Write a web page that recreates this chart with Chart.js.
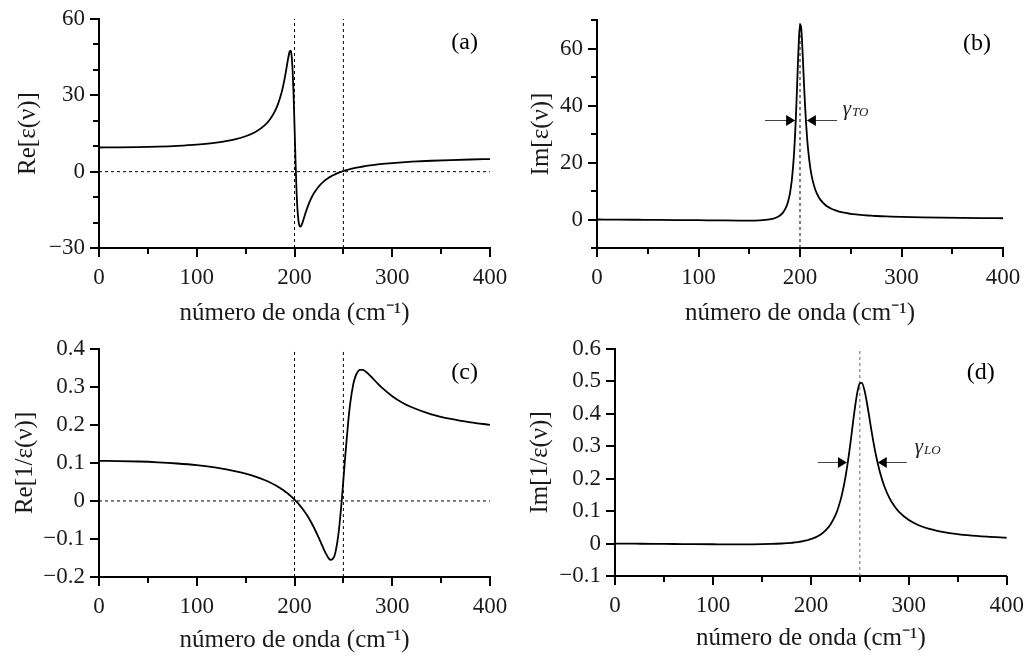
<!DOCTYPE html>
<html>
<head>
<meta charset="utf-8">
<script src="https://cdn.jsdelivr.net/npm/chart.js@4.4.1/dist/chart.umd.min.js"></script>
<style>
  body { margin: 0; background: #fff; width: 1031px; height: 657px; overflow: hidden; position: relative; }
  canvas { position: absolute; }
</style>
</head>
<body>
<canvas id="pa" width="515" height="330" style="left:0;top:0"></canvas>
<canvas id="pb" width="516" height="330" style="left:515px;top:0"></canvas>
<canvas id="pc" width="515" height="327" style="left:0;top:330px"></canvas>
<canvas id="pd" width="516" height="327" style="left:515px;top:330px"></canvas>
<script>
// wavenumber grid (cm-1), dense around the TO (200) and LO (250) features
const wn = [0, 20, 40, 60, 80, 100, 120, 140, 150, 160, 170, 175, 180, 183, 186, 188, 190, 192, 194, 195,
  196, 197, 198, 199, 200, 201, 202, 203, 204, 205, 206, 207, 208, 210, 212, 215, 218, 220, 225, 227,
  230, 232, 235, 237, 240, 242, 245, 248, 250, 252, 255, 257, 260, 262, 265, 267, 270, 272, 275, 280,
  285, 290, 300, 310, 320, 340, 360, 380, 400];

// (a) Re[eps]
const reEps = [9.50, 9.535, 9.643, 9.841, 10.156, 10.648, 11.439, 12.811, 13.929, 15.612, 18.401, 20.59, 23.77, 26.443, 30.001, 33.047, 36.761, 41.124, 45.554, 47.157,
  47.557, 45.73, 40.46, 31.021, 18.24, 4.716, -6.692, -14.57, -19.088, -21.129, -21.593, -21.145, -20.215, -17.825, -15.404, -12.258, -9.752, -8.38, -5.721, -4.889,
  -3.823, -3.212, -2.413, -1.947, -1.329, -0.963, -0.471, -0.039, 0.222, 0.464, 0.795, 0.996, 1.274, 1.445, 1.681, 1.827, 2.031, 2.158, 2.335, 2.601,
  2.835, 3.044, 3.397, 3.686, 3.925, 4.299, 4.575, 4.787, 4.955];

// (b) Im[eps]
const imEps = [0, -0.044, -0.09, -0.138, -0.193, -0.253, -0.319, -0.373, -0.37, -0.292, 0.025, 0.439, 1.31, 2.306, 4.048, 5.979, 9.023, 14.011, 22.415, 28.551,
  36.276, 45.471, 55.27, 63.743, 68.4, 67.788, 62.639, 55.09, 47.122, 39.855, 33.684, 28.616, 24.506, 18.472, 14.427, 10.533, 8.11, 6.972, 5.074, 4.554,
  3.934, 3.6, 3.188, 2.959, 2.668, 2.503, 2.289, 2.108, 2.002, 1.906, 1.778, 1.701, 1.598, 1.536, 1.452, 1.401, 1.33, 1.287, 1.228, 1.14,
  1.065, 0.999, 0.891, 0.804, 0.734, 0.627, 0.549, 0.49, 0.443];

// (c) Re[1/eps]
const reInv = [0.1053, 0.1049, 0.1037, 0.1016, 0.0984, 0.0939, 0.0874, 0.078, 0.0717, 0.064, 0.0544, 0.0486, 0.0419, 0.0375, 0.0327, 0.0293, 0.0257, 0.0218, 0.0177, 0.0155,
  0.0133, 0.011, 0.0086, 0.0062, 0.0036, 0.001, -0.0017, -0.0045, -0.0074, -0.0104, -0.0135, -0.0167, -0.02, -0.0271, -0.0346, -0.0469, -0.0606, -0.0705, -0.0978, -0.1095,
  -0.1271, -0.138, -0.151, -0.1552, -0.1495, -0.1338, -0.0863, -0.0087, 0.0548, 0.1206, 0.2096, 0.2563, 0.305, 0.3249, 0.3407, 0.3447, 0.3446, 0.3418, 0.3355, 0.3225,
  0.3091, 0.2966, 0.2754, 0.259, 0.2462, 0.2278, 0.2155, 0.2067, 0.2002];

// (d) Im[1/eps]
const imInv = [0, -0.0005, -0.001, -0.0014, -0.0019, -0.0022, -0.0024, -0.0023, -0.0019, -0.0012, 0.0001, 0.001, 0.0023, 0.0033, 0.0044, 0.0053, 0.0063, 0.0074, 0.0087, 0.0094,
  0.0101, 0.0109, 0.0118, 0.0127, 0.0137, 0.0147, 0.0158, 0.017, 0.0182, 0.0196, 0.021, 0.0226, 0.0243, 0.028, 0.0324, 0.0403, 0.0504, 0.0587, 0.0868, 0.102,
  0.1307, 0.1547, 0.1994, 0.2359, 0.3003, 0.348, 0.4191, 0.4742, 0.4934, 0.4953, 0.4689, 0.4377, 0.3826, 0.3455, 0.2942, 0.2642, 0.2257, 0.2039, 0.1764, 0.1414,
  0.1161, 0.0974, 0.0722, 0.0565, 0.046, 0.0332, 0.0259, 0.0211, 0.0179];

// tick labels
const xTickLabels = [0, 100, 200, 300, 400];
const aTicks = [-30, 0, 30, 60];
const bTicks = [0, 20, 40, 60];
const cTicks = [-0.2, -0.1, 0, 0.1, 0.2, 0.3, 0.4];
const dTicks = [-0.1, 0, 0.1, 0.2, 0.3, 0.4, 0.5, 0.6];

const FONT = '"Liberation Serif", "Times New Roman", serif';
const TXT = '#1a1a1a';

function isIn(list, v) { return list.some(t => Math.abs(t - v) < 1e-7); }
function fmt(v) { return String(Math.round(v * 100) / 100).replace('-', '\u2212'); }

// tick marks: long for labelled ticks, short for the minor ones
const tickMarks = {
  id: 'tickMarks',
  afterDraw(chart, args, o) {
    const { ctx, scales: { x, y } } = chart;
    ctx.save();
    ctx.strokeStyle = '#000';
    ctx.lineWidth = 2;
    ctx.beginPath();
    x.ticks.forEach(t => {
      const px = Math.round(x.getPixelForValue(t.value));
      const len = isIn(xTickLabels, t.value) ? 9 : 6;
      ctx.moveTo(px, x.top);
      ctx.lineTo(px, x.top + len);
    });
    y.ticks.forEach(t => {
      const py = Math.round(y.getPixelForValue(t.value));
      const len = isIn(o.labels, t.value) ? 9 : 6;
      ctx.moveTo(y.right, py);
      ctx.lineTo(y.right - len, py);
    });
    ctx.stroke();
    ctx.restore();
  }
};

// panel tag and the width arrows
const extras = {
  id: 'extras',
  afterDatasetsDraw(chart, args, o) {
    const { ctx, chartArea: a, scales: { x, y } } = chart;
    ctx.save();
    ctx.fillStyle = '#000';
    ctx.font = `24px ${FONT}`;
    ctx.textAlign = 'right';
    ctx.textBaseline = 'middle';
    ctx.fillText(o.tag, a.right - 12, a.top + 24);
    if (o.arrows) {
      const yy = Math.round(y.getPixelForValue(o.arrows.y)) + 0.5;
      o.arrows.pairs.forEach(([from, tip]) => {
        const x0 = x.getPixelForValue(from), x1 = x.getPixelForValue(tip);
        const dir = Math.sign(x1 - x0);
        ctx.strokeStyle = '#444';
        ctx.lineWidth = 1;
        ctx.beginPath();
        ctx.moveTo(x0, yy);
        ctx.lineTo(x1 - dir * 8, yy);
        ctx.stroke();
        ctx.beginPath();
        ctx.moveTo(x1, yy);
        ctx.lineTo(x1 - dir * 9, yy - 5.5);
        ctx.lineTo(x1 - dir * 9, yy + 5.5);
        ctx.closePath();
        ctx.fill();
      });
      const gx = x.getPixelForValue(o.arrows.labelX), gy = y.getPixelForValue(o.arrows.labelY);
      ctx.textAlign = 'left';
      ctx.textBaseline = 'alphabetic';
      ctx.fillStyle = '#222';
      ctx.font = `italic 21px ${FONT}`;
      ctx.fillText('\u03b3', gx, gy);
      const w = ctx.measureText('\u03b3').width;
      ctx.font = `italic 13px ${FONT}`;
      ctx.fillText(o.arrows.sub, gx + w + 1, gy + 1);
    }
    ctx.restore();
  }
};

function panel(id, p) {
  const canvas = document.getElementById(id);
  const W = canvas.width, H = canvas.height;
  const datasets = [{
    data: wn.map((v, i) => ({ x: v, y: p.ys[i] })),
    borderColor: '#000', borderWidth: 1.8, pointRadius: 0, showLine: true, order: 0,
    cubicInterpolationMode: 'monotone'
  }];
  p.marks.forEach(m => datasets.push({
    data: [{ x: m, y: p.yr[0] }, { x: m, y: p.yr[1] }],
    borderColor: p.dash, borderWidth: 1, borderDash: [3, 3], pointRadius: 0, showLine: true, order: 1
  }));
  if (p.zero) datasets.push({
    data: [{ x: 0, y: 0 }, { x: 400, y: 0 }],
    borderColor: '#000', borderWidth: 1, borderDash: [3, 3], pointRadius: 0, showLine: true, order: 1
  });

  return new Chart(canvas, {
    type: 'scatter',
    data: { datasets },
    plugins: [tickMarks, extras],
    options: {
      responsive: false,
      animation: false,
      layout: { padding: { left: 0, top: p.area.top, right: W - p.area.right, bottom: 0 } },
      plugins: {
        legend: { display: false },
        tooltip: { enabled: false },
        tickMarks: { labels: p.labels },
        extras: { tag: p.tag, arrows: p.arrows }
      },
      scales: {
        x: {
          type: 'linear', min: 0, max: 400,
          ticks: {
            stepSize: 50, autoSkip: false, maxRotation: 0, padding: 7, color: TXT,
            font: { family: FONT, size: 23 },
            callback: v => isIn(xTickLabels, v) ? fmt(v) : ''
          },
          grid: { drawOnChartArea: false, tickLength: 9, tickColor: 'transparent' },
          border: { color: '#000', width: 2 },
          title: {
            display: true, text: 'número de onda (cm\u207b\u00b9)', color: TXT,
            font: { family: FONT, size: 25 }, padding: { top: 0, bottom: p.xtPad }
          },
          afterFit: s => { s.height = H - p.area.bottom; }
        },
        y: {
          type: 'linear', min: p.yr[0], max: p.yr[1],
          ticks: {
            stepSize: p.step, autoSkip: false, padding: 5, color: TXT,
            font: { family: FONT, size: 23 },
            callback: v => isIn(p.labels, v) ? fmt(v) : ''
          },
          grid: { drawOnChartArea: false, tickLength: 9, tickColor: 'transparent' },
          border: { color: '#000', width: 2 },
          title: {
            display: true, text: p.title, color: TXT,
            font: { family: FONT, size: 25 }, padding: { top: p.ytPad, bottom: 0 }
          },
          afterFit: s => { s.width = p.area.left; }
        }
      }
    }
  });
}

panel('pa', {
  ys: reEps, yr: [-30, 60], step: 10, labels: aTicks, title: 'Re[\u03b5(\u03bd)]', tag: '(a)',
  marks: [200, 250], zero: true, dash: '#000',
  area: { left: 99, top: 19, right: 490, bottom: 248 }, xtPad: 2, ytPad: 13
});
panel('pb', {
  ys: imEps, yr: [-10, 70], step: 10, labels: bTicks, title: 'Im[\u03b5(\u03bd)]', tag: '(b)',
  marks: [200], zero: false, dash: '#000',
  area: { left: 82, top: 20, right: 488, bottom: 248 }, xtPad: 2, ytPad: 11,
  arrows: { y: 35, pairs: [[165.5, 195.2], [236.5, 206.8]], labelX: 242, labelY: 36.5, sub: 'TO' }
});
panel('pc', {
  ys: reInv, yr: [-0.2, 0.4], step: 0.1, labels: cTicks, title: 'Re[1/\u03b5(\u03bd)]', tag: '(c)',
  marks: [200, 250], zero: true, dash: '#000',
  area: { left: 99, top: 18, right: 490, bottom: 247 }, xtPad: 2, ytPad: 10
});
panel('pd', {
  ys: imInv, yr: [-0.1, 0.6], step: 0.1, labels: dTicks, title: 'Im[1/\u03b5(\u03bd)]', tag: '(d)',
  marks: [250], zero: false, dash: '#666',
  area: { left: 100, top: 17, right: 492, bottom: 246 }, xtPad: 4, ytPad: 10,
  arrows: { y: 0.25, pairs: [[207, 236.8], [298, 268.3]], labelX: 306, labelY: 0.28, sub: 'LO' }
});
</script>
</body>
</html>
